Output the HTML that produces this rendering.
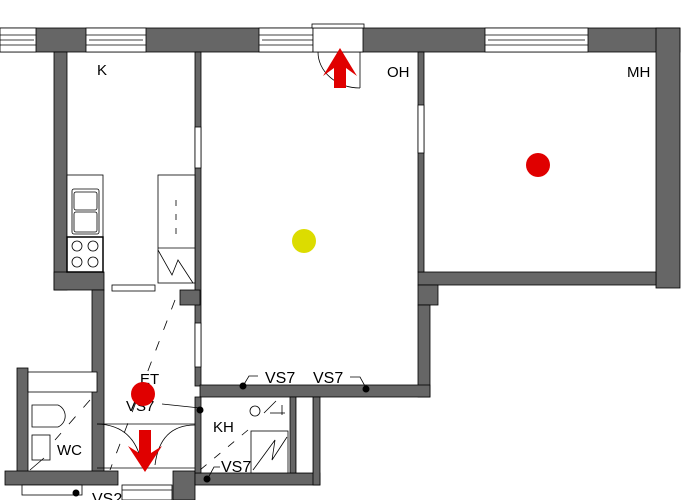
<!DOCTYPE html>
<html><head><meta charset="utf-8"><style>
html,body{margin:0;padding:0;background:#fff;width:700px;height:500px;overflow:hidden}
text{font-family:"Liberation Sans",sans-serif;font-size:15px;fill:#000}
</style></head><body>
<svg width="700" height="500" viewBox="0 0 700 500" xmlns="http://www.w3.org/2000/svg">
<g fill="#666" stroke="#000" stroke-width="0.8">
<rect x="0" y="28" width="680" height="24"/>
<rect x="656" y="28" width="24" height="260"/>
<rect x="418" y="272" width="238" height="13"/>
<rect x="418" y="285" width="20" height="20"/>
<rect x="418" y="305" width="12" height="92"/>
<rect x="418" y="52" width="6" height="220"/>
<rect x="195" y="52" width="6" height="334"/>
<rect x="200" y="385" width="230" height="12"/>
<rect x="54" y="52" width="13" height="238"/>
<rect x="54" y="272" width="50" height="18"/>
<rect x="92" y="290" width="12" height="182"/>
<rect x="180" y="290" width="20" height="15"/>
<rect x="17" y="368" width="11" height="104"/>
<rect x="5" y="471" width="113" height="14"/>
<rect x="173" y="471" width="22" height="29"/>
<rect x="195" y="473" width="125" height="12"/>
<rect x="195" y="397" width="6" height="76"/>
<rect x="290" y="397" width="6" height="76"/>
<rect x="313" y="397" width="7" height="88"/>
</g>
<g fill="#fff" stroke="#000" stroke-width="0.8">
<rect x="0" y="28" width="36" height="24"/><line x1="0" y1="35" x2="36" y2="35"/><line x1="0" y1="45" x2="36" y2="45"/><line x1="0" y1="40" x2="34" y2="40"/>
<rect x="86" y="28" width="60" height="24"/><line x1="86" y1="35" x2="146" y2="35"/><line x1="86" y1="45" x2="146" y2="45"/><line x1="89" y1="40" x2="143" y2="40"/>
<rect x="259" y="28" width="54" height="24"/><line x1="259" y1="35" x2="313" y2="35"/><line x1="259" y1="45" x2="313" y2="45"/><line x1="262" y1="40" x2="313" y2="40"/>
<rect x="313" y="28" width="50" height="24"/><rect x="312" y="24" width="52" height="4"/>
<rect x="485" y="28" width="103" height="24"/><line x1="485" y1="35" x2="588" y2="35"/><line x1="485" y1="45" x2="588" y2="45"/><line x1="488" y1="40" x2="585" y2="40"/>
<rect x="195" y="127" width="6" height="41"/>
<rect x="418" y="105" width="6" height="48"/>
<rect x="195" y="323" width="6" height="44"/>
<rect x="67" y="175" width="36" height="62"/>
<rect x="72" y="189" width="27" height="45" rx="2"/>
<rect x="74" y="192" width="23" height="18" rx="2"/><rect x="74" y="212" width="23" height="20" rx="2"/>
<rect x="67" y="237" width="36" height="35" stroke-width="1.5"/>
<circle cx="77" cy="246" r="5"/><circle cx="93" cy="246" r="5"/><circle cx="77" cy="262" r="5"/><circle cx="93" cy="262" r="5"/>
<rect x="158" y="175" width="37" height="108"/>
<line x1="158" y1="248" x2="195" y2="248"/>
<polyline points="158,250 172,275 178,260 193,283" fill="none"/>
<rect x="112" y="285" width="43" height="6"/>
<rect x="28" y="372" width="69" height="20"/>
<path d="M32 405 H58 A12 12 0 0 1 58 427 H32 Z"/>
<rect x="32" y="435" width="18" height="25"/>
<rect x="251" y="431" width="37" height="42"/>
<polyline points="253,470 275,440 272,460 287,437" fill="none"/>
<rect x="296" y="397" width="17" height="76"/>
<rect x="122" y="485" width="50" height="15"/>
<line x1="122" y1="490" x2="172" y2="490"/>
<rect x="22" y="485" width="60" height="10"/>
</g>
<g stroke="#000" stroke-width="0.8" fill="none">
<path d="M318 52 A42 36 0 0 0 360 88"/>
<line x1="360" y1="52" x2="360" y2="88"/>
<line x1="176" y1="200" x2="176" y2="240" stroke-dasharray="6 8"/>
<line x1="175" y1="300" x2="110" y2="470" stroke-dasharray="10 12"/>
<line x1="90" y1="400" x2="55" y2="440" stroke-dasharray="10 12"/>
<path d="M97 424 Q135 425 142 465"/>
<path d="M195 425 Q160 425 155 465"/>
<line x1="97" y1="424" x2="195" y2="424"/>
<line x1="97" y1="468" x2="195" y2="468"/>
<line x1="248" y1="430" x2="200" y2="470" stroke-dasharray="8 10"/>
<line x1="44" y1="458" x2="30" y2="470"/>
<line x1="162" y1="404" x2="200" y2="408"/>
<path d="M243 386 L249 376 H258"/>
<path d="M350 377 H360 L366 388"/>
<path d="M208 478 L214 467 H220"/>
<circle cx="255" cy="411" r="5"/>
<line x1="264" y1="413" x2="276" y2="401"/><line x1="270" y1="413" x2="285" y2="413"/><line x1="282" y1="405" x2="282" y2="415"/>
</g>
<g fill="#000">
<circle cx="243" cy="386" r="3.5"/><circle cx="366" cy="389" r="3.5"/><circle cx="200" cy="410" r="3.5"/><circle cx="207" cy="479" r="3.5"/><circle cx="76" cy="493" r="3.5"/>
</g>
<text x="97" y="75">K</text>
<text x="387" y="77">OH</text>
<text x="627" y="77">MH</text>
<text x="140" y="384">ET</text>
<text x="126" y="411">VS7</text>
<text x="213" y="432">KH</text>
<text x="57" y="455">WC</text>
<text x="265" y="383" style="font-size:16px">VS7</text>
<text x="313" y="383" style="font-size:16px">VS7</text>
<text x="221" y="472" style="font-size:16px">VS7</text>
<text x="92" y="504" style="font-size:16px">VS2</text>
<circle cx="304" cy="241" r="12" fill="#dcdc00"/>
<circle cx="538" cy="165" r="12" fill="#e00000"/>
<circle cx="143" cy="394" r="12" fill="#e00000"/>
<polygon points="334,88 346,88 346,68 357,76 340,48 323,76 334,68" fill="#e00000"/>
<polygon points="139,430 151,430 151,453 162,446 145,472 128,446 139,453" fill="#e00000"/>
</svg>
</body></html>
